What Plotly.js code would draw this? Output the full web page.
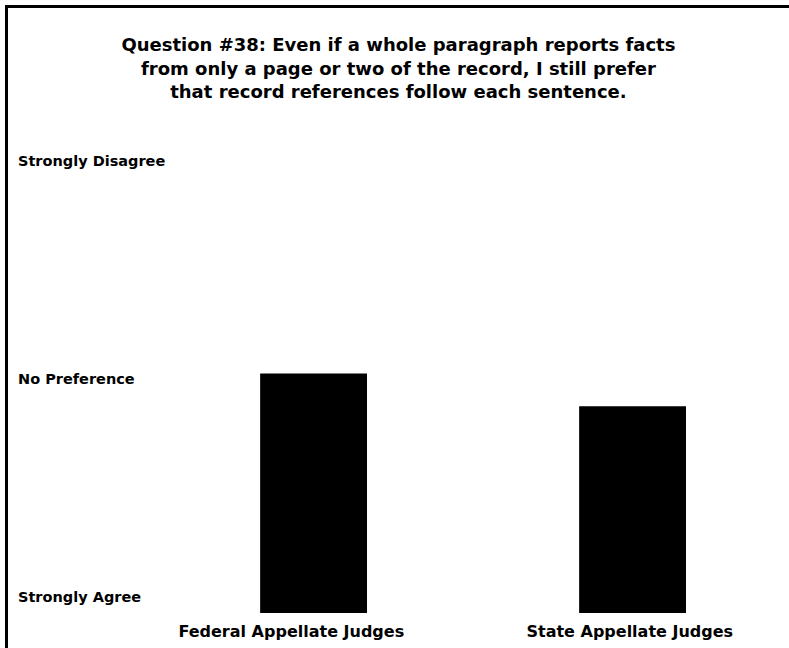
<!DOCTYPE html>
<html>
<head>
<meta charset="utf-8">
<script src="https://cdn.plot.ly/plotly-3.0.1.min.js"></script>
<style>
html,body{margin:0;padding:0;background:#fff;}
#wrap{position:relative;width:789px;height:648px;overflow:hidden;}
#chart{position:absolute;left:0;top:0;width:789px;height:648px;}
#frame{position:absolute;left:5px;top:5px;width:800px;height:700px;border-left:3px solid #000;border-top:3px solid #000;pointer-events:none;}
</style>
</head>
<body>
<div id="wrap"><div id="chart"></div><div id="frame"></div></div>
<script>
const titleLines = ["Question #38: Even if a whole paragraph reports facts",
  "from only a page or two of the record, I still prefer",
  "that record references follow each sentence."];
const categories = ["Federal Appellate Judges", "State Appellate Judges"];
const meanScores = [3.05, 2.75];
const scaleValues = [1, 3, 5];
const scaleLabels = ["Strongly Agree", "No Preference", "Strongly Disagree"];

const font = "DejaVu Sans, Verdana, sans-serif";
const pxPerUnit = 109;
const yMin = 1 - 16 / pxPerUnit;
const NB = "\u00A0";
const trace = {
  type: "bar",
  x: categories,
  y: meanScores,
  width: 0.335,
  marker: {color: "#000000", line: {width: 0}},
  hoverinfo: "skip"
};
const layout = {
  width: 789, height: 648,
  margin: {l: 15, r: 3, t: 140, b: 35},
  paper_bgcolor: "#ffffff", plot_bgcolor: "#ffffff",
  showlegend: false,
  title: {
    text: "<b>" + titleLines.join("<br>") + "</b>",
    font: {family: font, size: 18, color: "#000"},
    x: 0.505, xanchor: "center",
    y: 0.921, yanchor: "top", yref: "container"
  },
  xaxis: {
    type: "category",
    range: [-0.936, 1.481],
    tickvals: categories,
    ticktext: [categories[0] + NB.repeat(8), categories[1] + NB],
    showgrid: false, zeroline: false, showline: false,
    ticks: "", ticklabelstandoff: 7,
    tickfont: {family: font, size: 16, color: "#000", weight: "bold"},
    fixedrange: true
  },
  yaxis: {
    range: [yMin, yMin + 473 / pxPerUnit],
    tickvals: scaleValues,
    ticktext: scaleLabels,
    ticklabelposition: "inside",
    ticklabelstandoff: 0,
    showgrid: false, zeroline: false, showline: false,
    ticks: "",
    tickfont: {family: font, size: 14.5, color: "#000", weight: "bold"},
    fixedrange: true
  }
};
Plotly.newPlot("chart", [trace], layout, {staticPlot: true, displayModeBar: false});
</script>
</body>
</html>
